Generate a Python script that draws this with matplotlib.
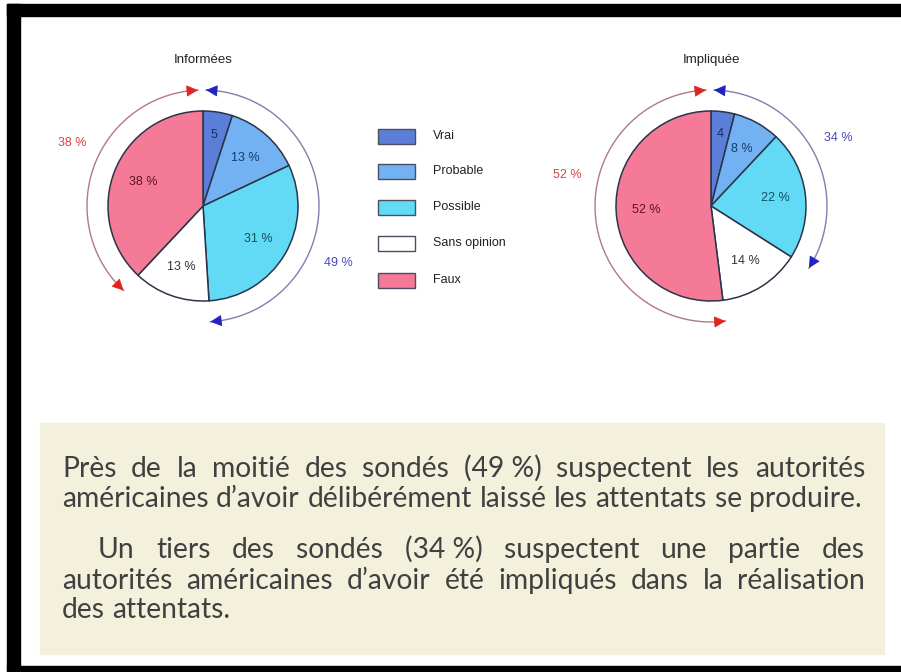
import numpy as np
import matplotlib
matplotlib.use("Agg")
import matplotlib.pyplot as plt
from matplotlib.patches import Rectangle

# Data
categories = ["Vrai", "Probable", "Possible", "Sans opinion", "Faux"]
informees = [5, 13, 31, 13, 38]
impliquee = [4, 8, 22, 14, 52]
informees_labels = ["5", "13 %", "31 %", "13 %", "38 %"]
impliquee_labels = ["4", "8 %", "22 %", "14 %", "52 %"]
titles = ["Informées", "Impliquée"]

paragraph_1 = [
    "Près de la moitié des sondés (49\u00a0%) suspectent les autorités",
    "américaines d’avoir délibérément laissé les attentats se produire.",
]
paragraph_2 = [
    "Un tiers des sondés (34\u00a0%) suspectent une partie des",
    "autorités américaines d’avoir été impliqués dans la réalisation",
    "des attentats.",
]

colors = ["#5b7fd8", "#72b2f2", "#62daf6", "#ffffff", "#f57a98"]
label_colors = ["#1c2a5a", "#173a6e", "#134f60", "#333333", "#5e1426"]
W, H = 901, 672


def Y(py):
    return H - py


def main():
    fig = plt.figure(figsize=(W / 100, H / 100), dpi=100)
    ax = fig.add_axes([0, 0, 1, 1])

    # black frame and beige panel
    ax.add_patch(Rectangle((7, Y(16)), W - 7, 12, color="black", zorder=0))
    ax.add_patch(Rectangle((7, Y(668)), 13, 664, color="black", zorder=0))
    ax.add_patch(Rectangle((7, 0), W - 7, 6, color="black", zorder=0))
    ax.add_patch(Rectangle((40, Y(654)), 844, 231, color="#f3f1dc", zorder=0))

    pies = [
        (informees, informees_labels, titles[0], (203, 206), (72, 143), (338, 263)),
        (impliquee, impliquee_labels, titles[1], (711, 206), (567, 175), (838, 138)),
    ]
    r = 95
    R = 116
    for values, labels, title, (cx, cy), red_pos, blue_pos in pies:
        wedges, _ = ax.pie(values, colors=colors, startangle=90, counterclock=False,
                           center=(cx, Y(cy)), radius=r,
                           wedgeprops=dict(edgecolor="#2b3448", linewidth=1.1))
        for i, (w, lab) in enumerate(zip(wedges, labels)):
            mid = np.radians((w.theta1 + w.theta2) / 2)
            dist = 0.76 if values[i] < 6 else 0.68
            ax.text(cx + dist * r * np.cos(mid), Y(cy) + dist * r * np.sin(mid), lab,
                    ha="center", va="center", fontsize=9, family="Liberation Sans",
                    color=label_colors[i])
        ax.text(cx, Y(60), title, ha="center", va="center", fontsize=9.5,
                family="Liberation Sans", color="#222222")

        # outer arcs: red = Faux, blue = Vrai + Probable + Possible
        red_pct = values[-1]
        blue_pct = sum(values[:3])
        arcs = [
            (92.5, 90 + red_pct * 3.6, "#b07a80", "#e02424"),
            (88.5, 90 - blue_pct * 3.6, "#7f7fb0", "#2222c0"),
        ]
        for a0, a1, lc, hc in arcs:
            th = np.radians(np.linspace(a0, a1, 200))
            x = cx + R * np.cos(th)
            y = Y(cy) + R * np.sin(th)
            ax.plot(x, y, color=lc, lw=1.0)
            for xy, xyt in [((x[0], y[0]), (x[6], y[6])), ((x[-1], y[-1]), (x[-7], y[-7]))]:
                ax.annotate("", xy=xy, xytext=xyt,
                            arrowprops=dict(arrowstyle="-|>,head_length=0.6,head_width=0.3",
                                            color=hc, lw=0.6, mutation_scale=12,
                                            shrinkA=0, shrinkB=0))
        ax.text(red_pos[0], Y(red_pos[1]), f"{red_pct} %", ha="center", va="center",
                fontsize=9, family="Liberation Sans", color="#d9424a")
        ax.text(blue_pos[0], Y(blue_pos[1]), f"{blue_pct} %", ha="center", va="center",
                fontsize=9, family="Liberation Sans", color="#4a48b8")

    # legend
    legend_y = [136, 171, 207, 243, 280]
    for cat, col, ly in zip(categories, colors, legend_y):
        ax.add_patch(Rectangle((378, Y(ly) - 7.5), 37, 15, facecolor=col,
                               edgecolor="#4a4f60", linewidth=1.0))
        ax.text(433, Y(ly), cat, ha="left", va="center", fontsize=9,
                family="Liberation Sans", color="#222222")

    ax.set_xlim(0, W)
    ax.set_ylim(0, H)
    ax.set_aspect("auto")
    ax.axis("off")

    # justified paragraph text
    renderer = fig.canvas.get_renderer()
    font = "Lato"
    probe = ax.text(0, 0, paragraph_1[1], fontsize=10, family=font)
    fs = 10 * 800 / probe.get_window_extent(renderer).width
    probe.remove()
    sp = ax.text(0, 0, "x x", fontsize=fs, family=font)
    nsp = ax.text(0, 0, "xx", fontsize=fs, family=font)
    space = sp.get_window_extent(renderer).width - nsp.get_window_extent(renderer).width
    sp.remove()
    nsp.remove()

    def put_line(line, x0, x1, base, justify=True):
        words = line.split(" ")
        texts = [ax.text(0, Y(base), w, fontsize=fs, family=font, color="#404040",
                         va="baseline", ha="left") for w in words]
        widths = [t.get_window_extent(renderer).width for t in texts]
        gap = (x1 - x0 - sum(widths)) / (len(words) - 1) if justify else space
        x = x0
        for t, w in zip(texts, widths):
            t.set_x(x)
            x += w + gap

    put_line(paragraph_1[0], 62, 865, 477)
    put_line(paragraph_1[1], 62, 862, 507)
    put_line(paragraph_2[0], 98, 865, 558)
    put_line(paragraph_2[1], 62, 865, 589)
    put_line(paragraph_2[2], 62, 865, 618, justify=False)

    fig.savefig("out.png", dpi=100, facecolor="white")


if __name__ == "__main__":
    main()
